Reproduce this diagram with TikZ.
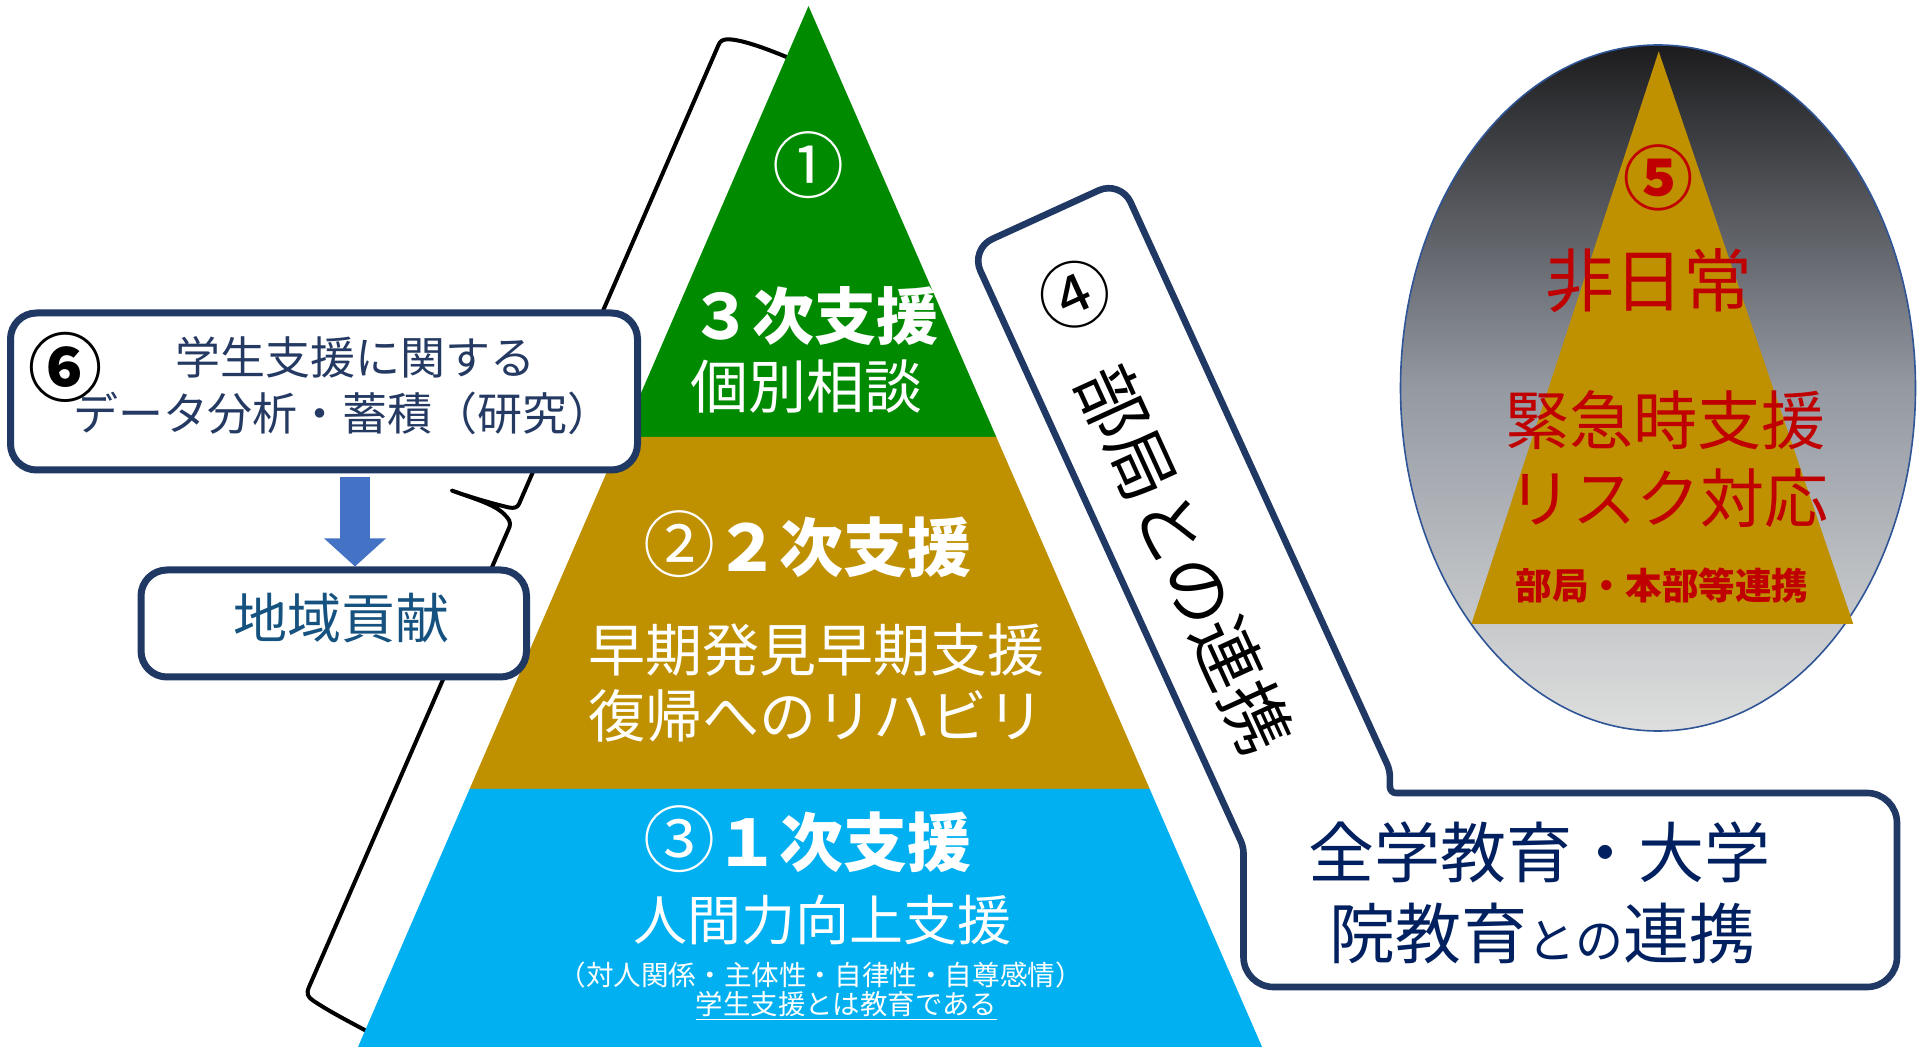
\documentclass[tikz,border=0pt]{standalone}
\usepackage{fontspec}
\setmainfont{Noto Sans CJK JP}
\usetikzlibrary{arrows.meta,calc}
\definecolor{pgreen}{RGB}{0,138,0}
\definecolor{pgold}{RGB}{191,144,0}
\definecolor{pblue}{RGB}{0,176,240}
\definecolor{navy}{RGB}{31,56,100}
\definecolor{navytext}{RGB}{36,58,98}
\definecolor{cblue}{RGB}{22,82,128}
\definecolor{dblue}{RGB}{0,32,96}
\definecolor{ared}{RGB}{192,0,0}
\definecolor{arrowblue}{RGB}{68,114,196}
\definecolor{ellborder}{RGB}{47,85,151}
\definecolor{elltop}{RGB}{28,28,30}
\definecolor{ellmid}{RGB}{148,153,162}
\definecolor{ellbot}{RGB}{222,223,222}
\newcommand{\fs}[1]{\fontsize{#1}{#1}\selectfont}
\begin{document}
\begin{tikzpicture}[x=0.5pt,y=-0.5pt,
  lbl/.style={inner sep=0pt, outer sep=0pt, anchor=center},
  wtxt/.style={lbl, text=white},
  boxstyle/.style={draw=navy, line width=3.5pt, fill=white, rounded corners=13pt, inner sep=0pt},
  bracestyle/.style={draw=black, line width=2pt, line join=round, line cap=round}]
\useasboundingbox (0,0) rectangle (1918,1047);
\fill[white] (0,0) rectangle (1918,1047);

% brace behind the pyramid
\draw[bracestyle] (796,61) .. controls (768,49) and (742,39.5) .. (728,39.3)
  .. controls (723,39.3) and (720,41) .. (718.5,45)
  -- (519,504) .. controls (517.5,507.5) and (514,508.5) .. (509,507.5)
  .. controls (490,503) and (470,497) .. (451.7,490.5)
  .. controls (472,498) and (494,504) .. (504,514)
  .. controls (509,519) and (511,522) .. (509.5,527)
  -- (309,987) .. controls (306,994) and (308,997) .. (313,1000.5)
  .. controls (330,1012) and (350,1022) .. (374,1035);

% pyramid
\fill[pgreen] (808.5,6) -- (996.3,437) -- (622,437) -- cycle;
\fill[pgold] (622,437) -- (996.3,437) -- (1149.7,789) -- (469.6,789) -- cycle;
\fill[pblue] (469.6,789) -- (1149.7,789) -- (1262.1,1047) -- (358,1047) -- cycle;

\node[wtxt, font=\fs{36}] (n1) at (808,165) {①};
\node[wtxt, font=\fs{31}\bfseries] (t3) at (814.7,315.6) {３次支援};
\node[wtxt, font=\fs{29}] (k3) at (806.7,386.5) {個別相談};
\node[wtxt, font=\fs{32}\bfseries] (t2) at (807,544) {{\fs{36}\mdseries ②}２次支援};
\node[wtxt, font=\fs{28.5}] (k2a) at (816,649.5) {早期発見早期支援};
\node[wtxt, font=\fs{28.5}] (k2b) at (816,715.6) {復帰へのリハビリ};
\node[wtxt, font=\fs{32}\bfseries] (t1) at (807,839) {{\fs{36}\mdseries ③}１次支援};
\node[wtxt, font=\fs{27}] (k1) at (822.6,920) {人間力向上支援};
\node[wtxt, font=\fs{13.8}] (k1b) at (820.7,975) {（対人関係・主体性・自律性・自尊感情）};
\node[wtxt, font=\fs{13.7}] (k1c) at (846.4,1004) {学生支援とは教育である};
\draw[white, line width=0.9pt] ([yshift=-2.5pt]k1c.base west) -- ([yshift=-2.5pt]k1c.base east);

% left boxes
\node[boxstyle, minimum width=313.5pt, minimum height=78.5pt] (box6) at (324,391.5) {};
\node[boxstyle, minimum width=192.75pt, minimum height=53.5pt] (boxC) at (333.75,623.5) {};
\coordinate (ax) at (355,0);
\draw[arrowblue, line width=15pt, shorten <=1.75pt, -{Triangle[width=30pt,length=14pt]}] (box6.south -| ax) -- (boxC.north -| ax);
\node[lbl, font=\fs{37}\bfseries, text=black] (c6) at (65,367) {⑥};
\node[lbl, font=\fs{22.5}, text=navytext] (b6a) at (355.6,357) {学生支援に関する};
\node[lbl, font=\fs{22.5}, text=navytext] (b6b) at (343,413) {データ分析・蓄積（研究）};
\node[lbl, font=\fs{27}, text=cblue] (cc) at (341,617.7) {地域貢献};

% bar (4) joined with bottom box
\draw[navy, line width=3.3pt, fill=white, line join=round]
  (1045.5,214.7) [rounded corners=12pt] -- (1120.6,180.4)
  [rounded corners=3pt] -- (1389.8,770) -- (1390,793)
  [rounded corners=15pt] -- (1897,793) -- (1897,987) -- (1243.5,987)
  [rounded corners=3pt] -- (1243.5,847)
  [rounded corners=12pt] -- (970.4,249) -- cycle;
\node[lbl, font=\fs{36}, rotate=24.54, text=black] (c4) at (1075,295) {④};
\node[lbl, font=\fs{34.75}, rotate=-65.46, text=black] (bk) at (1185,559) {部局との連携};
\node[lbl, font=\fs{33}, text=dblue] (zg1) at (1539,852.5) {全学教育・大学};
\node[lbl, font=\fs{33}, text=dblue] (zg2) at (1542.5,933) {院教育{\fs{24}との}連携};

% ellipse (5)
\shade[top color=elltop, bottom color=ellbot, middle color=ellmid] (1658,388) ellipse [x radius=128.75pt, y radius=171.5pt];
\draw[ellborder, line width=0.8pt] (1658,388) ellipse [x radius=128.75pt, y radius=171.5pt];
\fill[pgold] (1658.7,51.4) -- (1853.2,623.8) -- (1471.5,623.8) -- cycle;
\node[lbl, font=\fs{35}\bfseries, text=ared] (c5) at (1658.7,177.5) {⑤};
\node[lbl, font=\fs{34.5}, text=ared] (h1) at (1649.4,280.7) {非日常};
\node[lbl, font=\fs{32}, text=ared] (h2) at (1665,420.6) {緊急時支援};
\node[lbl, font=\fs{32}, text=ared] (h3) at (1668,498.6) {リスク対応};
\node[lbl, font=\fs{18.3}\bfseries, text=ared] (h4) at (1662,585.8) {部局・本部等連携};
\end{tikzpicture}
\end{document}
